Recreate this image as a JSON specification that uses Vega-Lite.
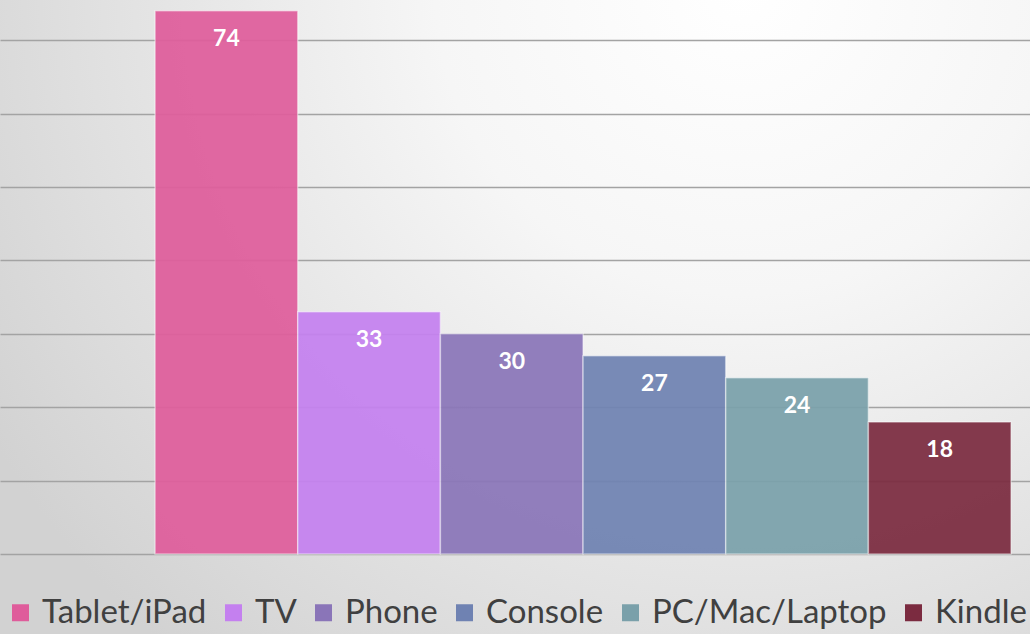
{
  "$schema": "https://vega.github.io/schema/vega-lite/v6.json",
  "width": 1030,
  "height": 634,
  "padding": 0,
  "autosize": {"type": "none"},
  "config": {
    "view": {
      "stroke": null,
      "fill": {"gradient": "radial", "x1": 0.72, "y1": 0.18, "r1": 0, "x2": 0.72, "y2": 0.18, "r2": 0.85,
        "stops": [{"offset": 0, "color": "#ffffff"}, {"offset": 0.35, "color": "#f6f6f6"}, {"offset": 1, "color": "#d2d2d2"}]}
    },
    "font": "Lato"
  },
  "data": {
    "values": [
      {"device": "Tablet/iPad", "value": 74},
      {"device": "TV", "value": 33},
      {"device": "Phone", "value": 30},
      {"device": "Console", "value": 27},
      {"device": "PC/Mac/Laptop", "value": 24},
      {"device": "Kindle", "value": 18}
    ]
  },
  "encoding": {
    "x": {"field": "device", "type": "nominal", "sort": null,
      "scale": {"paddingInner": 0, "paddingOuter": 0.61, "align": 0.891},
      "axis": null},
    "y": {"field": "value", "type": "quantitative",
      "scale": {"domain": [-10.9, 75.48], "nice": false, "zero": false},
      "axis": {"values": [0, 10, 20, 30, 40, 50, 60, 70], "labels": false, "ticks": false, "domain": false, "title": null,
        "grid": true, "gridColor": "#a3a3a3", "gridWidth": 1.5, "gridOpacity": 1}}
  },
  "layer": [
    {
      "mark": {"type": "bar", "fillOpacity": 0.93, "stroke": "#ffffff", "strokeOpacity": 0.45, "strokeWidth": 1.5},
      "encoding": {
        "y2": {"datum": 0},
        "color": {"field": "device", "type": "nominal", "sort": null,
          "scale": {"domain": ["Tablet/iPad", "TV", "Phone", "Console", "PC/Mac/Laptop", "Kindle"],
            "range": ["#df5c9b", "#c480ef", "#8a75b8", "#6f82b2", "#7aa0aa", "#7b2b40"]},
          "legend": {"orient": "none", "legendX": 4, "legendY": 596, "direction": "horizontal", "title": null,
            "symbolType": "square", "symbolSize": 289, "symbolStrokeWidth": 0, "symbolOpacity": 1,
            "labelFontSize": 33, "labelColor": "#404040", "labelOffset": 5, "columnPadding": 10, "padding": 0,
            "labelLimit": 400}}
      }
    },
    {
      "mark": {"type": "text", "baseline": "middle", "align": "center", "dy": 28, "color": "white", "fontSize": 23, "fontWeight": "bold"},
      "encoding": {"text": {"field": "value", "type": "quantitative"}}
    }
  ]
}
